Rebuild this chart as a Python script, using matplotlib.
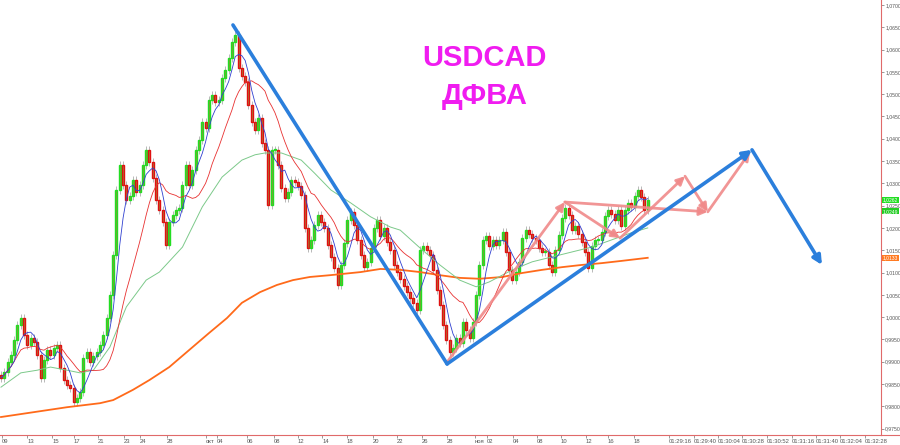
import numpy as np
import pandas as pd
import matplotlib
matplotlib.use("Agg")
import matplotlib.pyplot as plt
import matplotlib.transforms as mtransforms
from matplotlib.ticker import FuncFormatter

plt.rcParams['font.family'] = ['Liberation Sans', 'DejaVu Sans']

# 4h closes
closes = [
    0.9864, 0.9877, 0.9899, 0.9915, 0.9949, 0.9982, 0.9998, 0.9960, 0.9938, 0.9953,
    0.9944, 0.9915, 0.9864, 0.9904, 0.9926, 0.9915, 0.9931, 0.9938, 0.9886, 0.9859,
    0.9848, 0.9841, 0.9810, 0.9819, 0.9832, 0.9908, 0.9922, 0.9899, 0.9913, 0.9922,
    0.9938, 0.9960, 0.9998, 1.0050, 1.0139, 1.0285, 1.0341, 1.0296, 1.0263, 1.0272,
    1.0307, 1.0281, 1.0296, 1.0341, 1.0375, 1.0348, 1.0312, 1.0263, 1.0240, 1.0213,
    1.0162, 1.0213, 1.0229, 1.0240, 1.0245, 1.0296, 1.0341, 1.0296, 1.0330, 1.0375,
    1.0397, 1.0438, 1.0424, 1.0487, 1.0498, 1.0482, 1.0487, 1.0536, 1.0554, 1.0581,
    1.0617, 1.0633, 1.0559, 1.0541, 1.0527, 1.0476, 1.0438, 1.0420, 1.0446, 1.0390,
    1.0375, 1.0251, 1.0375, 1.0375, 1.0341, 1.0290, 1.0267, 1.0281, 1.0307, 1.0303,
    1.0294, 1.0274, 1.0200, 1.0155, 1.0173, 1.0207, 1.0229, 1.0213, 1.0200, 1.0162,
    1.0135, 1.0110, 1.0072, 1.0117, 1.0166, 1.0218, 1.0236, 1.0207, 1.0173, 1.0139,
    1.0112, 1.0124, 1.0155, 1.0200, 1.0218, 1.0182, 1.0200, 1.0168, 1.0151, 1.0117,
    1.0101, 1.0086, 1.0070, 1.0056, 1.0043, 1.0032, 1.0016, 1.0151, 1.0160, 1.0151,
    1.0139, 1.0106, 1.0061, 1.0027, 0.9982, 0.9949, 0.9922, 0.9931, 0.9953, 0.9942,
    0.9989, 0.9971, 0.9953, 0.9989, 1.0050, 1.0117, 1.0173, 1.0182, 1.0160, 1.0173,
    1.0162, 1.0173, 1.0191, 1.0146, 1.0106, 1.0083, 1.0101, 1.0124, 1.0177, 1.0195,
    1.0186, 1.0177, 1.0173, 1.0155, 1.0146, 1.0146, 1.0117, 1.0101, 1.0151, 1.0184,
    1.0222, 1.0245, 1.0229, 1.0195, 1.0204, 1.0186, 1.0168, 1.0146, 1.0110, 1.0160,
    1.0173, 1.0173, 1.0191, 1.0227, 1.0240, 1.0231, 1.0218, 1.0240, 1.0204, 1.0240,
    1.0256, 1.0247, 1.0272, 1.0285, 1.0269, 1.0240, 1.0262,
]
first_open = 0.9870
ask_label = "1,0249"

# slow moving averages (green, orange)
green_bars = [0, 6, 11, 15, 20, 24, 28, 33, 38, 44, 48, 55, 61, 67, 73, 77, 80, 85, 91,
              95, 100, 106, 112, 118, 121, 127, 133, 139, 144, 148, 155, 161, 167, 173,
              179, 185, 191, 196]
green_vals = [0.9843, 0.9875, 0.9881, 0.9888, 0.9881, 0.9875, 0.9881, 0.9933, 1.0023,
              1.0083, 1.0101, 1.0157, 1.0247, 1.0314, 1.0352, 1.0364, 1.0368, 1.0368,
              1.0352, 1.0323, 1.0285, 1.0256, 1.0225, 1.0202, 1.0195, 1.0155, 1.0117,
              1.0083, 1.0068, 1.0079, 1.0106, 1.0124, 1.0135, 1.0146, 1.0157, 1.0173,
              1.0189, 1.0200]
orange_bars = [0, 10, 20, 30, 34, 40, 45, 51, 57, 63, 68.5, 73, 78.5, 83.6, 88.5, 93.6,
               99.7, 109, 115, 121, 127, 133, 139, 145, 152, 158, 164, 170, 176, 182,
               188, 196]
orange_vals = [0.9776, 0.9787, 0.9798, 0.9807, 0.9814, 0.9837, 0.9859, 0.9888, 0.9926,
               0.9964, 0.9998, 1.0032, 1.0056, 1.0072, 1.0083, 1.0090, 1.0094, 1.0101,
               1.0108, 1.0106, 1.0101, 1.0094, 1.0088, 1.0086, 1.0090, 1.0099, 1.0106,
               1.0112, 1.0117, 1.0121, 1.0126, 1.0133]

# hand-drawn analysis lines (bar, price)
blue_down = [(70.3, 1.0655), (135.2, 0.9895)]
blue_arrows = [((135.2, 0.9895), (227.6, 1.0375)), ((227.6, 1.0375), (248.8, 1.0117))]
pink_arrows = [
    ((135.2, 0.9899), (170.9, 1.0258)),
    ((170.9, 1.0258), (187.6, 1.0177)),
    ((170.9, 1.0258), (214.2, 1.0236)),
    ((187.6, 1.0177), (207.3, 1.0316)),
    ((207.3, 1.0316), (214.2, 1.0236)),
    ((214.2, 1.0236), (227.0, 1.0370)),
]

date_ticks = [0.3, 7.9, 15.5, 22.1, 29.4, 37.3, 42.1, 50.3, 62.1, 65.5, 74.5, 82.7, 90.0,
              97.3, 104.8, 112.7, 120.0, 127.6, 135.2, 143.6, 147.2, 155.2, 162.4, 169.7,
              177.3, 183.9, 191.8, 202.4, 210.0, 217.3, 224.5, 232.1, 239.7, 247.0,
              254.2, 261.8]
date_labels = ["09", "13", "15", "17", "21", "23", "24", "28", "окт", "04", "06", "08",
               "12", "14", "18", "20", "22", "26", "28", "ноя", "02", "04", "08", "10",
               "12", "16", "18", "01:29:16", "01:29:40", "01:30:04", "01:30:28",
               "01:30:52", "01:31:16", "01:31:40", "01:32:04", "01:32:28"]

c = pd.Series(closes)
o = c.shift(1).fillna(first_open)
ma_fast = c.rolling(5, min_periods=1).mean()
ma_mid = c.rolling(14, min_periods=1).mean()
bars = np.arange(len(c))

fig = plt.figure(figsize=(9, 4.45), dpi=100)
ax = fig.add_axes([0, 10 / 445, 881 / 900, 435 / 445])

# candles
wick = 0.0009
up = c >= o
body_lo = np.minimum(o, c)
body_hi = np.maximum(o, c)
ax.vlines(bars, body_lo - wick, body_hi + wick, color="#b8b8b8", lw=0.7, zorder=2)
edge = np.where(up, "#22dd22", "#e01010")
ax.bar(bars, (body_hi - body_lo).clip(lower=0.00012), bottom=body_lo, width=0.6,
       color="#9c8a3c", edgecolor=edge, linewidth=1.0, zorder=3)

# moving averages
ax.plot(orange_bars, orange_vals, color="#ff6a1a", lw=1.3, zorder=4)
ax.plot(green_bars, green_vals, color="#7cc98a", lw=0.7, zorder=4)
ax.plot(bars, ma_mid, color="#e83030", lw=0.6, zorder=4)
ax.plot(bars, ma_fast, color="#2f3fd0", lw=0.6, zorder=4)

# analysis drawings
blue = "#2b7fdc"
pink = "#f08a8a"
ax.plot(*zip(*blue_down), color=blue, lw=2.6, solid_capstyle="round", zorder=6)
for a, b in blue_arrows:
    ax.annotate("", xy=b, xytext=a,
                arrowprops=dict(arrowstyle="-|>", color=blue, lw=2.6,
                                mutation_scale=13, shrinkA=0, shrinkB=0), zorder=6)
for a, b in pink_arrows:
    ax.annotate("", xy=b, xytext=a,
                arrowprops=dict(arrowstyle="-|>", color=pink, lw=2.0, alpha=0.9,
                                mutation_scale=12, shrinkA=0, shrinkB=0), zorder=5)

ax.text(0.55, 0.866, "USDCAD", transform=ax.transAxes, color="#f01cf0",
        fontsize=21, fontweight="bold", ha="center", va="center")
ax.text(0.55, 0.780, "ДФВА", transform=ax.transAxes, color="#f01cf0",
        fontsize=21, fontweight="bold", ha="center", va="center")

# axes styling
ax.set_xlim(-0.3, 266.7)
ax.set_ylim(0.97357, 1.0711)
for s in ["top", "left"]:
    ax.spines[s].set_visible(False)
for s in ["right", "bottom"]:
    ax.spines[s].set_color("#e06a6a")
    ax.spines[s].set_linewidth(0.8)
fig.add_artist(plt.Line2D([881 / 900, 1], [10 / 445, 10 / 445], color="#e06a6a", lw=0.8))

ax.yaxis.tick_right()
ax.set_yticks(np.arange(0.975, 1.0701, 0.005))
ax.yaxis.set_major_formatter(FuncFormatter(lambda v, p: f"{v:.4f}".replace(".", ",")))
ax.tick_params(axis="y", length=2.5, width=0.6, color="#888888", labelsize=3.7,
               labelcolor="#555555", pad=0.5)
ax.set_xticks(date_ticks, date_labels)
ax.tick_params(axis="x", length=2, width=0.6, color="#888888", labelsize=4.2,
               labelcolor="#555555", pad=1)
for lab in ax.get_xticklabels():
    lab.set_ha("left")

# price labels on the right axis
tr = mtransforms.blended_transform_factory(ax.transAxes, ax.transData)
lab_kw = dict(transform=tr, fontsize=3.6, color="white", va="center", ha="left",
              clip_on=False)
ax.text(1.002, closes[-1] - 0.0025, ask_label,
        bbox=dict(boxstyle="square,pad=0.1", fc="#22cc22", ec="none"), **lab_kw)
ax.text(1.002, closes[-1], f"{closes[-1]:.4f}".replace(".", ","),
        bbox=dict(boxstyle="square,pad=0.1", fc="#22dd22", ec="none"), **lab_kw)
ax.text(1.002, orange_vals[-1], f"{orange_vals[-1]:.4f}".replace(".", ","),
        bbox=dict(boxstyle="square,pad=0.1", fc="#ff7a22", ec="none"), **lab_kw)

fig.savefig("out.png", dpi=100)
plt.close(fig)
